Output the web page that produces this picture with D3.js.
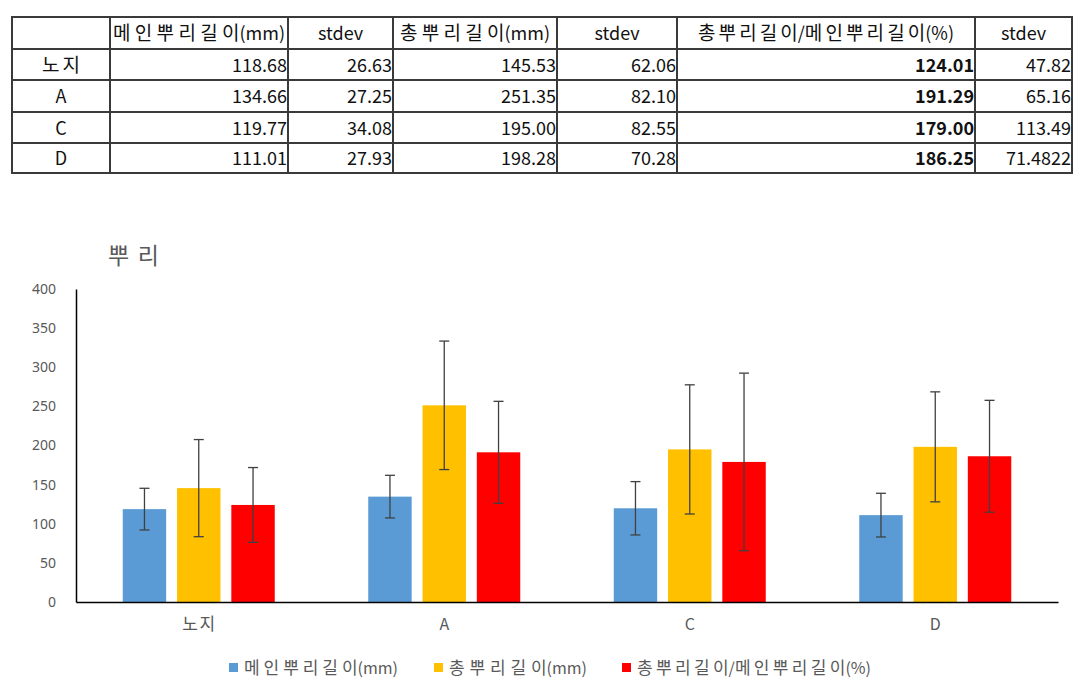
<!DOCTYPE html>
<html><head><meta charset="utf-8">
<script src="https://cdn.jsdelivr.net/npm/d3@7"></script>
<style>
body{margin:0;background:#fff;}
svg{display:block;font-family:"Noto Sans CJK KR","Noto Sans",sans-serif;}
</style></head>
<body><svg id="c" width="1084" height="698"></svg>
<script>
const categories = ["노지","A","C","D"];
const seriesNames = ["메인뿌리길이(mm)","총뿌리길이(mm)","총뿌리길이/메인뿌리길이(%)"];
const mainLen = [118.68,134.66,119.77,111.01];
const mainSd = [26.63,27.25,34.08,27.93];
const totalLen = [145.53,251.35,195.00,198.28];
const totalSd = [62.06,82.10,82.55,70.28];
const ratio = [124.01,191.29,179.00,186.25];
const ratioSd = [47.82,65.16,113.49,71.4822];
const mainSdText = ["26.63","27.25","34.08","27.93"];
const totalSdText = ["62.06","82.10","82.55","70.28"];
const ratioSdText = ["47.82","65.16","113.49","71.4822"];
const yTicks = [0,50,100,150,200,250,300,350,400];
const colors = ["#5b9bd5","#ffc000","#ff0000"];
const title = "뿌리";

const svg = d3.select("#c");

// Hangul runs: slightly larger glyphs, spread between glyphs so the string reaches width W
function fitHangul(t, str, W, hs){
  t.text(null);
  const runs = str.match(/[\uAC00-\uD7A3]+|[^\uAC00-\uD7A3]+/g);
  const spaced = [];
  runs.forEach(r=>{
    if(/[\uAC00-\uD7A3]/.test(r)){
      if(r.length>1){ const a=t.append("tspan").attr("font-size",hs).text(r.slice(0,-1)); spaced.push([a,r.length-1]); }
      t.append("tspan").attr("font-size",hs).text(r.slice(-1));
    } else t.append("tspan").text(r);
  });
  const natural = t.node().getComputedTextLength();
  const n = spaced.reduce((a,s)=>a+s[1],0);
  const ls = n? Math.max(0,(W-natural)/n) : 0;
  spaced.forEach(s=>s[0].attr("letter-spacing",ls));
}

// ---------- Table ----------
const colX = [12,110,288,393,557,677,975,1072];
const rowY = [17,49,80,112,143,173];
const header = ["", seriesNames[0], "stdev", seriesNames[1], "stdev", seriesNames[2], "stdev"];
const headerLen = [0,172,0,150,0,256,0];
const fmt = d3.format(".2f");
const rows = categories.map((c,i)=>[c, fmt(mainLen[i]), mainSdText[i], fmt(totalLen[i]), totalSdText[i], fmt(ratio[i]), ratioSdText[i]]);
const tg = svg.append("g");
rowY.forEach(y=>tg.append("line").attr("x1",colX[0]-1).attr("x2",colX[7]+1).attr("y1",y).attr("y2",y).attr("stroke","#3a3a3a").attr("stroke-width",2));
colX.forEach(x=>tg.append("line").attr("x1",x).attr("x2",x).attr("y1",rowY[0]).attr("y2",rowY[5]).attr("stroke","#3a3a3a").attr("stroke-width",2));
header.forEach((h,j)=>{
  if(!h) return;
  const t = tg.append("text").attr("x",(colX[j]+colX[j+1])/2).attr("y",(rowY[0]+rowY[1])/2+7)
    .attr("text-anchor","middle").attr("font-size",18).attr("fill","#111").text(h);
  if(headerLen[j]) fitHangul(t,h,headerLen[j],19);
});
rows.forEach((r,i)=>{
  r.forEach((v,j)=>{
    const yy=(rowY[i+1]+rowY[i+2])/2+7;
    const t=tg.append("text").attr("y",yy).attr("font-size",18).attr("fill","#111").text(v);
    if(j===0){t.attr("x",(colX[0]+colX[1])/2).attr("text-anchor","middle");
      if(i===0) fitHangul(t,v,38,19);}
    else{t.attr("x",colX[j+1]-1).attr("text-anchor","end");}
    if(j===5) t.attr("font-weight","bold");
  });
});

// ---------- Chart ----------
const x0 = d3.scaleBand().domain(categories).range([76,1058]).paddingInner(0).paddingOuter(0);
const y = d3.scaleLinear().domain([0,400]).range([602,289]);
const x1 = d3.scaleBand().domain(d3.range(3)).range([-76,76]).paddingInner(0.2);

const tt = svg.append("text").attr("x",108).attr("y",264).attr("font-size",23).attr("fill","#595959").text(title);
fitHangul(tt,title,51,23);

const yAxis = svg.append("g").attr("transform","translate(76,0)")
  .call(d3.axisLeft(y).tickValues(yTicks).tickSize(0).tickPadding(20));
yAxis.select(".domain").attr("stroke","#000").attr("stroke-width",1.5);
yAxis.selectAll("text").attr("font-size",14).attr("fill","#595959").attr("font-family","'Noto Sans',sans-serif");

const series = [[mainLen,mainSd],[totalLen,totalSd],[ratio,ratioSd]];
series.forEach(([vals,sds],s)=>{
  const g = svg.append("g");
  g.selectAll("rect").data(categories).join("rect")
    .attr("x",(c)=>x0(c)+x0.bandwidth()/2+x1(s))
    .attr("width",x1.bandwidth())
    .attr("y",(c,i)=>y(vals[i]))
    .attr("height",(c,i)=>y(0)-y(vals[i]))
    .attr("fill",colors[s]);
  categories.forEach((c,i)=>{
    const cx = x0(c)+x0.bandwidth()/2+x1(s)+x1.bandwidth()/2;
    const hi=y(vals[i]+sds[i]), lo=y(vals[i]-sds[i]);
    g.append("line").attr("x1",cx).attr("x2",cx).attr("y1",hi).attr("y2",lo).attr("stroke","#404040").attr("stroke-width",1.3);
    [hi,lo].forEach(yy=>g.append("line").attr("x1",cx-5).attr("x2",cx+5).attr("y1",yy).attr("y2",yy).attr("stroke","#404040").attr("stroke-width",1.3));
  });
});

const xAxis = svg.append("g").attr("transform","translate(0,602)")
  .call(d3.axisBottom(x0).tickSize(0).tickPadding(17));
xAxis.select(".domain").attr("stroke","#000").attr("stroke-width",1.5);
xAxis.selectAll("text").attr("font-size",16).attr("fill","#595959").attr("font-family","'Noto Sans CJK KR',sans-serif")
  .each(function(d){ if(d==="노지") fitHangul(d3.select(this),d,33,17); });

// legend
const legX = [229,434,622];
const legLen = [154,138,234];
seriesNames.forEach((n,s)=>{
  svg.append("rect").attr("x",legX[s]).attr("y",663).attr("width",9).attr("height",9).attr("fill",colors[s]);
  const t = svg.append("text").attr("x",legX[s]+15).attr("y",674).attr("font-size",16).attr("fill","#595959").text(n);
  fitHangul(t,n,legLen[s],17);
});
</script></body></html>
